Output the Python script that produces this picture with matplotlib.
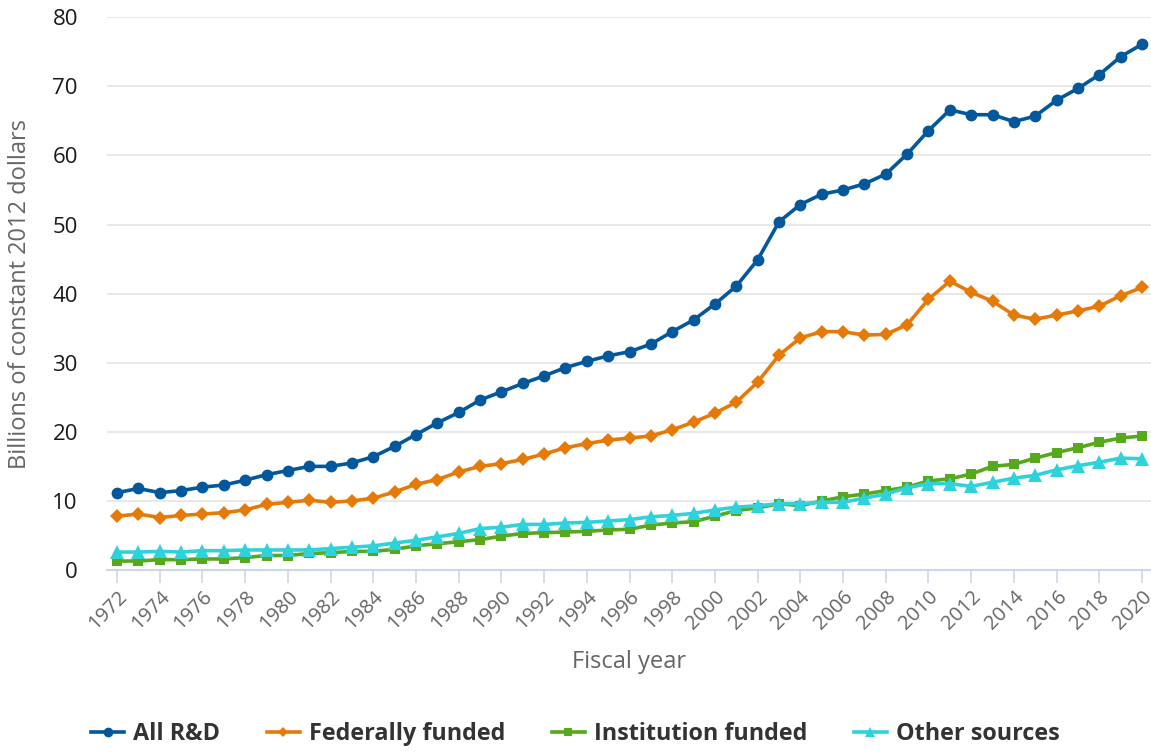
import matplotlib
matplotlib.use("Agg")
import matplotlib.pyplot as plt
from matplotlib.lines import Line2D

years = list(range(1972, 2021))

all_rd = [11.2, 11.8, 11.2, 11.5, 12.0, 12.3, 13.0, 13.8, 14.4, 15.0, 15.0, 15.5,
          16.4, 17.9, 19.6, 21.3, 22.8, 24.6, 25.8, 27.0, 28.1, 29.3, 30.2, 31.0,
          31.6, 32.7, 34.5, 36.2, 38.5, 41.1, 44.9, 50.4, 52.9, 54.4, 55.0, 55.9,
          57.3, 60.2, 63.6, 66.6, 65.9, 65.9, 64.9, 65.7, 68.0, 69.7, 71.7, 74.3, 76.1]

federal = [7.8, 8.1, 7.6, 7.9, 8.1, 8.3, 8.7, 9.5, 9.8, 10.1, 9.8, 10.0,
           10.4, 11.3, 12.4, 13.1, 14.2, 15.0, 15.4, 16.0, 16.8, 17.7, 18.3, 18.8,
           19.1, 19.4, 20.3, 21.4, 22.7, 24.3, 27.2, 31.1, 33.6, 34.5, 34.5, 34.0,
           34.1, 35.5, 39.2, 41.8, 40.2, 38.9, 36.9, 36.3, 36.9, 37.5, 38.2, 39.7, 40.9]

institution = [1.3, 1.3, 1.5, 1.5, 1.6, 1.6, 1.8, 2.1, 2.1, 2.4, 2.5, 2.7,
               2.7, 3.0, 3.5, 3.8, 4.1, 4.4, 4.9, 5.3, 5.4, 5.5, 5.6, 5.8,
               5.9, 6.5, 6.8, 7.0, 7.8, 8.6, 9.0, 9.6, 9.3, 10.0, 10.6, 11.0,
               11.5, 12.0, 12.9, 13.2, 13.9, 15.0, 15.3, 16.2, 17.0, 17.7, 18.5, 19.1, 19.4]

other = [2.6, 2.6, 2.7, 2.6, 2.8, 2.8, 2.9, 2.9, 2.9, 2.9, 3.1, 3.3,
         3.5, 3.9, 4.3, 4.8, 5.3, 6.0, 6.2, 6.6, 6.6, 6.8, 6.9, 7.1,
         7.3, 7.7, 7.9, 8.2, 8.7, 9.1, 9.3, 9.6, 9.6, 9.8, 9.8, 10.4,
         11.0, 11.9, 12.5, 12.5, 12.1, 12.7, 13.3, 13.7, 14.5, 15.1, 15.6, 16.2, 16.1]

series_names = ["All R&D", "Federally funded", "Institution funded", "Other sources"]
colors = ["#03579B", "#E67A09", "#56A81C", "#2ED2DA"]
markers = ["o", "D", "s", "^"]
msizes = [8.5, 7.0, 7.8, 9.5]
legend_msizes = [7.0, 5.5, 6.0, 7.5]

ytick_vals = [0, 10, 20, 30, 40, 50, 60, 70, 80]
xtick_years = list(range(1972, 2021, 2))

plt.rcParams['font.family'] = ['Open Sans', 'DejaVu Sans']

fig = plt.figure(figsize=(11.51, 7.52), dpi=100)
ax = fig.add_axes([0.093, 0.242, 0.907, 0.735])

data = [all_rd, federal, institution, other]
handles = []
for vals, name, c, m, ms, lms in zip(data, series_names, colors, markers, msizes, legend_msizes):
    ax.plot(years, vals, color=c, marker=m, markersize=ms, linewidth=2.6,
            markeredgewidth=0, label=name, zorder=3)
    handles.append(Line2D([0], [0], color=c, marker=m, markersize=lms,
                          markeredgewidth=0, linewidth=2.6))

ax.set_xlim(1971.53, 2020.42)
ax.set_ylim(0, 80)
ax.set_yticks(ytick_vals)
ax.set_xticks(xtick_years)
ax.set_xticklabels([str(y) for y in xtick_years], rotation=45, ha='right',
                   rotation_mode='anchor', fontsize=14.5, color='#666666')
ax.tick_params(axis='y', length=0, labelsize=16, labelcolor='#1a1a1a', pad=21)
ax.tick_params(axis='x', length=9, width=1.2, color='#ccd6eb', pad=3)
ax.grid(axis='y', color='#e6e6e6', linewidth=1.3, zorder=0)
ax.set_axisbelow(True)
for s in ['top', 'right', 'left']:
    ax.spines[s].set_visible(False)
ax.spines['bottom'].set_color('#ccd6eb')
ax.spines['bottom'].set_linewidth(1.5)

ax.set_ylabel("Billions of constant 2012 dollars", fontsize=17, color='#666666')
ax.yaxis.set_label_coords(-0.072, 0.5)
ax.set_xlabel("Fiscal year", fontsize=17, color='#666666')
ax.xaxis.set_label_coords(0.5, -0.145)

fig.legend(handles, series_names, loc='center', bbox_to_anchor=(0.5, 0.024),
           ncol=4, frameon=False, handlelength=1.4, handletextpad=0.4,
           columnspacing=2.0,
           prop={'family': ['Open Sans', 'DejaVu Sans'], 'weight': 'bold', 'size': 16.8},
           labelcolor='#333333')

fig.savefig("out.png", dpi=100)
